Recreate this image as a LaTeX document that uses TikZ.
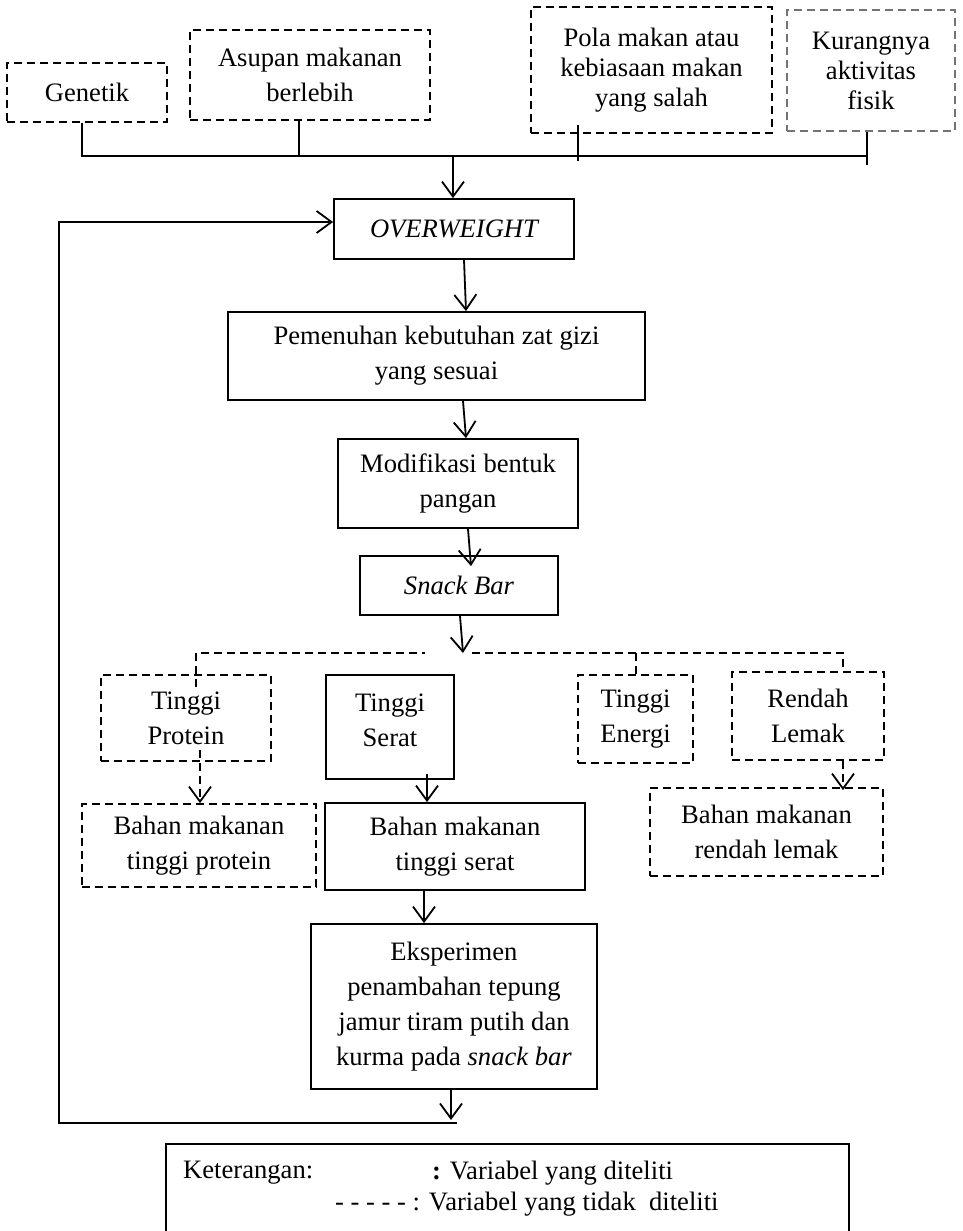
\documentclass[tikz,border=0pt]{standalone}
\usepackage{fontspec}
\setmainfont{Liberation Serif}
\usetikzlibrary{arrows.meta,calc}
\tikzset{
  txt/.style={font=\fontsize{26.6}{35}\selectfont, align=center, inner sep=0pt},
  tighttxt/.style={font=\fontsize{26.6}{30}\selectfont},
  solidbox/.style={txt, draw, line width=1.8pt},
  dashbox/.style={txt, draw, line width=1.8pt, dash pattern=on 8pt off 5pt},
  conn/.style={line width=1.8pt},
  dconn/.style={conn, dash pattern=on 8pt off 5pt},
  arr/.style={conn, -{Straight Barb[length=15pt,width=22pt]}},
  darr/.style={dconn, -{Straight Barb[length=15pt,width=22pt]}},
}
\begin{document}
\begin{tikzpicture}[x=1pt,y=-1pt]
\useasboundingbox (0,0) rectangle (962,1231);

% causes
\node[dashbox, minimum width=160pt, minimum height=59pt] (gen) at (87,92.5) {Genetik};
\node[dashbox, minimum width=240pt, minimum height=90pt] (asu) at (310,75) {Asupan makanan\\berlebih};
\node[dashbox, tighttxt, minimum width=241pt, minimum height=126pt] (pola) at (651.5,70) {Pola makan atau\\kebiasaan makan\\yang salah};
\node[dashbox, tighttxt, draw=black!55, minimum width=168pt, minimum height=121pt] (kur) at (871,70.5) {Kurangnya\\aktivitas\\fisik};

% main chain
\node[solidbox, minimum width=240pt, minimum height=60pt] (ow) at (454,229) {\itshape OVERWEIGHT};
\node[solidbox, minimum width=417pt, minimum height=88pt] (pem) at (436.5,356) {Pemenuhan kebutuhan zat gizi\\yang sesuai};
\node[solidbox, minimum width=240pt, minimum height=89pt] (mod) at (458,483.5) {Modifikasi bentuk\\pangan};
\node[solidbox, minimum width=198pt, minimum height=59pt] (sb) at (459,585.5) {\itshape Snack Bar};

% nutrient targets
\node[dashbox, minimum width=170pt, minimum height=86pt] (tp) at (186,718) {Tinggi\\Protein};
\node[solidbox, minimum width=128pt, minimum height=104pt] (ts) at (390,727) {};
\node[txt] (tstext) at (390,720) {Tinggi\\Serat};
\node[dashbox, minimum width=115pt, minimum height=88pt] (te) at (635.5,719) {Tinggi\\Energi};
\node[dashbox, minimum width=152pt, minimum height=88pt] (rl) at (808,716) {Rendah\\Lemak};

% ingredients
\node[dashbox, minimum width=234pt, minimum height=83pt] (bp) at (199,845.5) {Bahan makanan\\tinggi protein};
\node[solidbox, minimum width=260pt, minimum height=87pt] (bs) at (455,846.5) {Bahan makanan\\tinggi serat};
\node[dashbox, minimum width=233pt, minimum height=88pt] (bl) at (766.5,832) {Bahan makanan\\rendah lemak};

\node[solidbox, minimum width=286pt, minimum height=165pt] (eks) at (454,1006.5) {Eksperimen\\penambahan tepung\\jamur tiram putih dan\\kurma pada \textit{snack bar}};

% joining bar of the causes
\coordinate (jl) at (82,156);
\coordinate (jr) at (867,156);
\draw[conn] (gen.south -| jl) -- (jl) -- (jr);
\draw[conn] (asu.south -| 299,0) -- (299,156);
\draw[conn] (578,125) -- (578,161);
\draw[conn] (kur.south -| jr) -- ([yshift=-9pt]jr);
\draw[arr] (453,156) -- (ow.north -| 453,0);

% chain arrows
\draw[arr] (ow.south -| 464,0) -- (pem.north -| 466,0);
\draw[arr] (pem.south -| 463,0) -- (mod.north -| 466,0);
\draw[arr] (mod.south -| 468,0) -- ([yshift=-11pt]sb.north -| 471,0);

% branching bar
\coordinate (bm) at (463,653);
\draw[arr] (sb.south -| 460,0) -- (bm);
\draw[dconn] (196,687) -- (196,653) -- (425,653);
\draw[dconn] (472,653) -- (843,653) -- (rl.north -| 843,0);
\draw[dconn] (636,653) -- (te.north -| 636,0);

\draw[darr] (200,750) -- (bp.north -| 200,0);
\draw[arr] (427,774) -- (bs.north -| 427,0);
\draw[darr] (rl.south -| 843,0) -- ([yshift=-3pt]bl.north -| 843,0);
\draw[arr] (bs.south -| 424,0) -- (eks.north -| 424,0);

% feedback loop
\coordinate (fbr) at (457,1123);
\coordinate (fbl) at (59,1123);
\coordinate (fbt) at (59,222);
\draw[arr] (eks.south -| 451,0) -- ([yshift=3pt]fbr -| 451,0);
\draw[arr] (fbr) -- (fbl) -- (fbt) -- (fbt -| ow.west);

% legend
\draw[conn] (166,1240) -- (166,1144) -- (849,1144) -- (849,1240);
\node[txt, anchor=west] (ket) at (183,1173) {Keterangan:};
\node[txt, anchor=west] (ket1) at (432,1173) {\textbf{:} Variabel yang diteliti};
\node[txt, anchor=west] (ket2) at (335,1204) {- - - - - : Variabel yang tidak\ \ diteliti};
\end{tikzpicture}
\end{document}
